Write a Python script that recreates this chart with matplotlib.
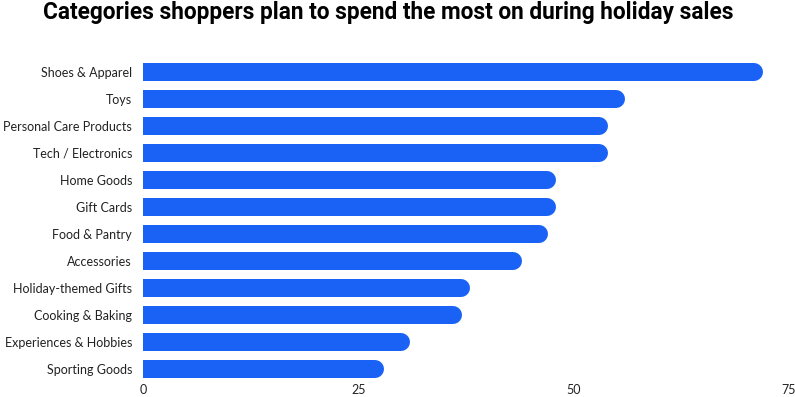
import matplotlib
matplotlib.use("Agg")
import matplotlib.pyplot as plt

categories = ["Shoes & Apparel", "Toys", "Personal Care Products", "Tech / Electronics",
              "Home Goods", "Gift Cards", "Food & Pantry", "Accessories",
              "Holiday-themed Gifts", "Cooking & Baking", "Experiences & Hobbies",
              "Sporting Goods"]
values = [72, 56, 54, 54, 48, 48, 47, 44, 38, 37, 31, 28]
xticks = [0, 25, 50, 75]

BAR_COLOR = "#1a62f6"
DPI = 100
W, H = 795, 397
X0, X1 = 143, 789

fig = plt.figure(figsize=(W / DPI, H / DPI), dpi=DPI)
ax = fig.add_axes([X0 / W, 1 - 380 / H, (X1 - X0) / W, 320 / H])

bar_px = 18
lw_pt = bar_px * 72 / DPI
xmax = 75
rx = (bar_px / 2) / ((X1 - X0) / xmax)  # cap radius in data units

# round cap on the right, left cap is clipped at x=0
for i, v in enumerate(values):
    ax.plot([0, v - rx], [i, i], color=BAR_COLOR, lw=lw_pt, solid_capstyle="round")

ax.set_xlim(0, xmax)
ax.set_ylim(11.407, -0.444)
ax.set_yticks(range(len(categories)))
ax.set_yticklabels(categories, fontsize=9, family="Lato", color="#222222")
ax.set_xticks(xticks)
ax.set_xticklabels([str(t) for t in xticks], fontsize=9, family="Lato", color="#222222")
ax.tick_params(axis="y", length=0, pad=8)
ax.tick_params(axis="x", length=0, pad=3)
for s in ax.spines.values():
    s.set_visible(False)

fig.text(0.488, 1 - 13 / H, "Categories shoppers plan to spend the most on during holiday sales",
         ha="center", va="center", fontsize=16.3, fontweight="bold", family="Roboto")

fig.savefig("out.png", dpi=DPI)
